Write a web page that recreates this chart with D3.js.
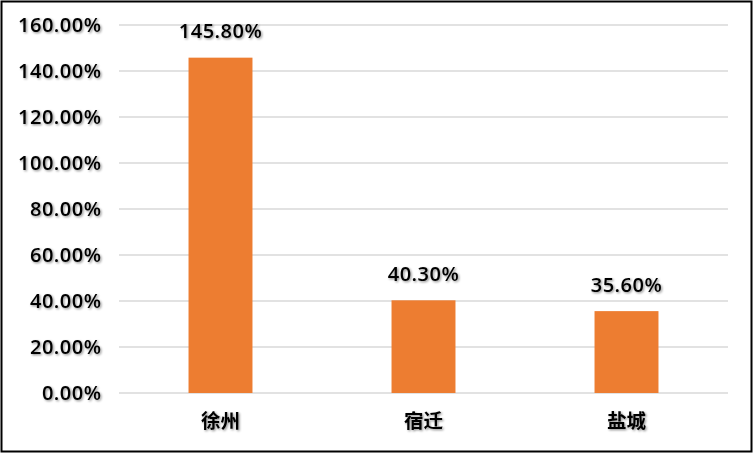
<!DOCTYPE html>
<html><head><meta charset="utf-8">
<script src="https://cdn.jsdelivr.net/npm/d3@7"></script>
<style>body{margin:0;background:#fff}</style>
</head><body>
<script>
const categories = ["徐州", "宿迁", "盐城"];
const values = [145.8, 40.3, 35.6];
const yTicks = [0, 20, 40, 60, 80, 100, 120, 140, 160];

(function(){
const W = 753, H = 453;
const svg = d3.select("body").append("svg").attr("width", W).attr("height", H);
const defs = svg.append("defs");
const f = defs.append("filter").attr("id","sh").attr("x","-20%").attr("y","-20%").attr("width","140%").attr("height","140%");
f.append("feDropShadow").attr("dx",1.2).attr("dy",1.2).attr("stdDeviation",0.8).attr("flood-color","#000").attr("flood-opacity",0.45);

svg.append("rect").attr("x",1.5).attr("y",1.5).attr("width",W-3).attr("height",H-3)
  .attr("fill","#fff").attr("stroke","#000").attr("stroke-width",2);

const pl = 119, pr = 728, pt = 25, pb = 393;
const x = d3.scaleBand().domain(categories).range([pl, pr]).paddingInner(0.685).paddingOuter(0.3425);
const y = d3.scaleLinear().domain([0,160]).range([pb, pt]);

const font = "'Open Sans', 'Noto Sans CJK SC', sans-serif";
const fs = 20;
const ls = 0.5;

svg.append("g").selectAll("line").data(yTicks).join("line")
  .attr("x1", pl).attr("x2", pr)
  .attr("y1", d => y(d)).attr("y2", d => y(d))
  .attr("stroke", "#d9d9d9").attr("stroke-width", 1.3);

svg.append("g").selectAll("text").data(yTicks).join("text")
  .attr("x", 101 + ls).attr("y", d => y(d)).attr("dy","0.34em")
  .attr("text-anchor","end").attr("font-family",font).attr("font-size",fs).attr("font-weight",600)
  .attr("letter-spacing", ls)
  .attr("fill","#000").attr("filter","url(#sh)")
  .text(d => d.toFixed(2) + "%");

svg.append("g").selectAll("rect").data(values).join("rect")
  .attr("x",(d,i)=>x(categories[i])).attr("width",x.bandwidth())
  .attr("y",d=>y(d)).attr("height",d=>pb-y(d))
  .attr("fill","#ED7D31");

svg.append("g").selectAll("text").data(values).join("text")
  .attr("x",(d,i)=>x(categories[i])+x.bandwidth()/2).attr("y",d=>y(d)-19.5)
  .attr("text-anchor","middle").attr("font-family",font).attr("font-size",fs).attr("font-weight",600)
  .attr("letter-spacing", ls)
  .attr("fill","#000").attr("filter","url(#sh)")
  .text(d=>d.toFixed(2)+"%");

svg.append("g").selectAll("text").data(categories).join("text")
  .attr("x",d=>x(d)+x.bandwidth()/2).attr("y",428)
  .attr("text-anchor","middle").attr("font-family","'Noto Sans CJK SC', sans-serif").attr("font-size",19.5).attr("font-weight","bold")
  .attr("fill","#000").attr("filter","url(#sh)")
  .text(d=>d);
})();
</script>
</body></html>
